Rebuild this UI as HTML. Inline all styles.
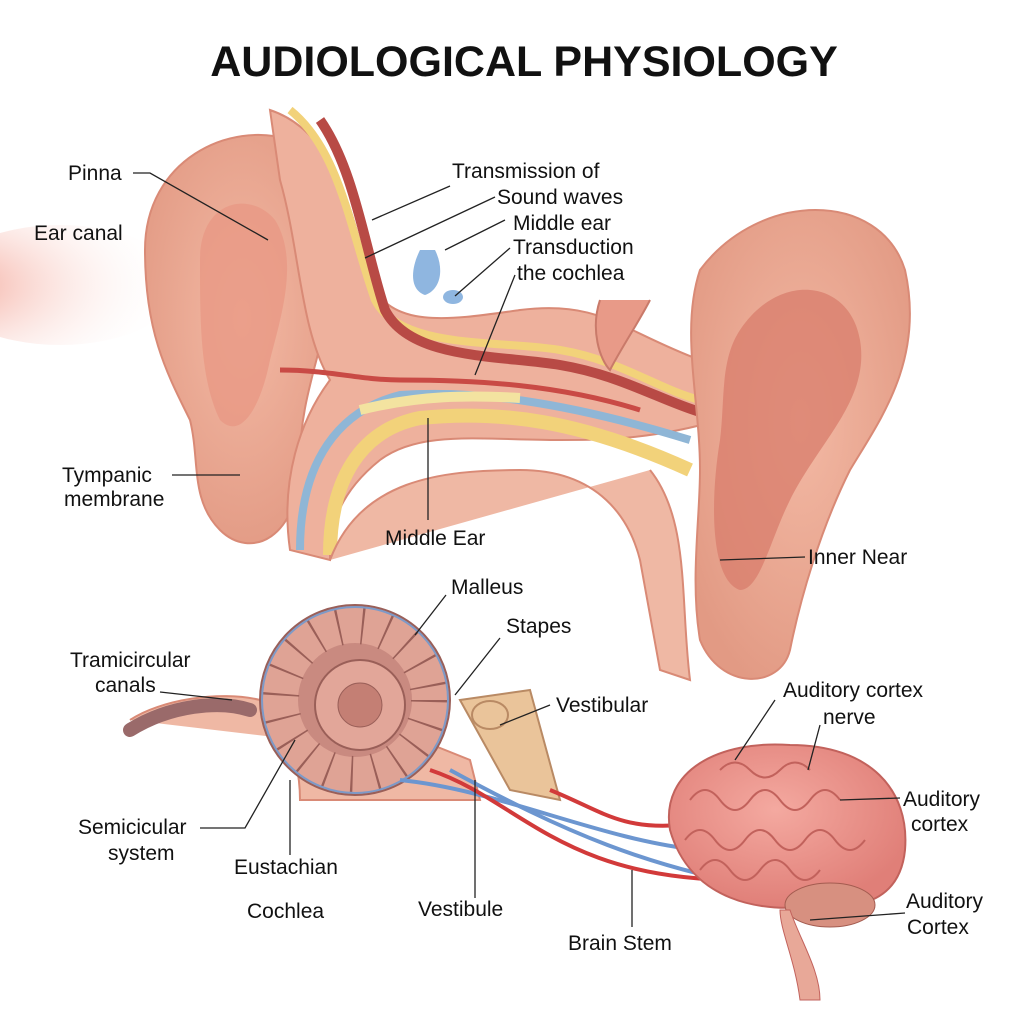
<!DOCTYPE html>
<html><head><meta charset="utf-8"><style>
html,body{margin:0;padding:0;background:#fff}
svg{display:block}
text{font-family:"Liberation Sans",sans-serif;fill:#111}
</style></head><body>
<svg width="1024" height="1024" viewBox="0 0 1024 1024">
<defs>
<radialGradient id="skin" cx="50%" cy="45%" r="60%"><stop offset="0" stop-color="#f3b9a4"/><stop offset="1" stop-color="#e29a84"/></radialGradient>
<radialGradient id="glow" cx="0" cy="0.5" r="1"><stop offset="0" stop-color="#f08a78"/><stop offset="1" stop-color="#fff" stop-opacity="0"/></radialGradient>
<radialGradient id="brain" cx="45%" cy="40%" r="60%"><stop offset="0" stop-color="#f4a9a0"/><stop offset="1" stop-color="#e07f78"/></radialGradient>
</defs>
<rect width="1024" height="1024" fill="#fff"/>
<text x="524" y="76" font-size="43" font-weight="bold" text-anchor="middle" fill="#111">AUDIOLOGICAL PHYSIOLOGY</text>
<ellipse cx="60" cy="285" rx="120" ry="60" fill="url(#glow)" opacity="0.8"/>
<!-- left ear -->
<path d="M145 250 C145 160 230 120 290 140 C340 160 350 230 330 300 C320 360 300 400 300 460 C300 540 250 560 220 530 C190 500 200 460 190 420 C165 370 145 330 145 250Z" fill="url(#skin)" stroke="#d98a76" stroke-width="2"/>
<path d="M200 260 C200 200 250 190 275 220 C300 260 280 320 270 360 C260 410 240 440 220 420 C200 380 200 320 200 260Z" fill="#e89984" opacity="0.8"/>
<!-- central band -->
<path d="M270 110 C330 130 350 200 370 280 C390 330 450 320 520 310 C600 300 620 330 700 360 L720 420 C650 440 600 440 560 440 C480 440 420 430 380 460 C330 500 330 540 330 560 L290 550 C280 480 300 420 330 380 C300 330 300 250 280 180 Z" fill="#eeb19d" stroke="#d98a76" stroke-width="2"/>
<path d="M290 110 C340 150 350 230 375 300 C400 350 500 340 560 350 C620 360 660 390 700 400" fill="none" stroke="#f2d27a" stroke-width="8"/>
<path d="M320 120 C355 170 365 250 385 310 C410 360 500 355 560 365 C620 375 660 400 700 412" fill="none" stroke="#b84a45" stroke-width="10"/>
<path d="M280 370 C330 370 360 380 400 380 C480 380 560 385 640 410" fill="none" stroke="#c94a45" stroke-width="5"/>
<path d="M300 550 C300 460 340 410 400 395 C470 390 560 400 690 440" fill="none" stroke="#8fb6d6" stroke-width="8"/>
<path d="M330 555 C330 480 360 430 420 418 C500 410 580 420 690 470" fill="none" stroke="#f2d27a" stroke-width="14"/>
<path d="M360 410 C420 395 470 395 520 398" fill="none" stroke="#f3e3a0" stroke-width="10"/>
<path d="M330 560 C360 480 440 470 520 470 C600 470 630 520 640 560 L660 670 L690 680 C680 600 690 520 650 470" fill="#efb8a4" stroke="#d98a76" stroke-width="2"/>
<path d="M420 250 C410 270 410 290 425 295 C440 290 445 270 435 250 Z" fill="#8fb6e0"/>
<ellipse cx="453" cy="297" rx="10" ry="7" fill="#8fb6e0"/>
<path d="M600 300 C590 330 600 360 610 370 C620 350 640 320 650 300" fill="#e89a88" stroke="#c97a6a" stroke-width="2"/>
<!-- right ear -->
<path d="M700 270 C760 190 880 190 905 270 C925 360 880 420 850 470 C820 530 800 600 790 650 C780 690 720 690 700 640 C690 580 700 520 700 470 C700 400 680 330 700 270Z" fill="url(#skin)" stroke="#d98a76" stroke-width="2"/>
<path d="M740 330 C780 270 850 280 860 340 C870 400 820 440 790 500 C770 540 760 590 740 590 C710 580 710 500 720 440 C725 400 720 360 740 330Z" fill="#d97f6e" opacity="0.8"/>
<!-- cochlea -->
<path d="M130 720 C160 700 220 690 260 700 C290 720 300 770 300 800 L480 800 L470 760 L420 740 L300 740" fill="#efb8a4" stroke="#d98a76" stroke-width="2"/>
<path d="M130 730 C170 705 220 700 250 710" fill="none" stroke="#9a6a6a" stroke-width="14" stroke-linecap="round"/>
<circle cx="355" cy="700" r="95" fill="#c98a80" stroke="#9a5f58" stroke-width="2"/>
<circle cx="355" cy="700" r="75" fill="none" stroke="#dfa395" stroke-width="36"/>
<circle cx="355" cy="700" r="75" fill="none" stroke="#9a5f58" stroke-width="38" stroke-dasharray="2 22"/>
<circle cx="355" cy="700" r="93" fill="none" stroke="#7d9ac8" stroke-width="2"/>
<circle cx="360" cy="705" r="45" fill="#e2a699" stroke="#9a5f58" stroke-width="2"/>
<circle cx="360" cy="705" r="22" fill="#c47f74" stroke="#9a5f58"/>
<path d="M460 700 L530 690 L560 800 L510 790 Z" fill="#eac49a" stroke="#b98a64" stroke-width="2"/>
<ellipse cx="490" cy="715" rx="18" ry="14" fill="#eac49a" stroke="#b98a64" stroke-width="2"/>
<path d="M400 780 C500 790 600 840 700 850" fill="none" stroke="#6c96d0" stroke-width="4"/>
<path d="M430 770 C520 800 560 880 740 880" fill="none" stroke="#d23a3a" stroke-width="4"/>
<path d="M550 790 C600 810 620 830 680 825" fill="none" stroke="#d23a3a" stroke-width="4"/>
<path d="M450 770 C560 830 650 870 780 890" fill="none" stroke="#6c96d0" stroke-width="4"/>
<!-- brain -->
<path d="M670 830 C660 770 720 740 790 745 C870 745 910 790 905 850 C900 900 860 910 820 905 C760 915 690 900 670 830Z" fill="url(#brain)" stroke="#c2625c" stroke-width="2"/>
<g fill="none" stroke="#c2625c" stroke-width="2">
<path d="M690 800 q15 -20 30 0 t30 0 t30 0 t30 0 t30 0"/>
<path d="M685 840 q15 -20 30 0 t30 0 t30 0 t30 0 t30 0 t30 0"/>
<path d="M700 870 q15 -20 30 0 t30 0 t30 0 t30 0"/>
<path d="M720 770 q15 -15 30 0 t30 0 t30 0"/>
</g>
<ellipse cx="830" cy="905" rx="45" ry="22" fill="#d79080" stroke="#a45c50"/>
<path d="M790 910 C800 940 820 970 820 1000 L800 1000 C795 960 780 930 780 910Z" fill="#e8a898" stroke="#c2625c"/>
<g stroke="#222" stroke-width="1.3" fill="none">
<path d="M133 173 L150 173 L268 240"/>
<path d="M450 186 L372 220"/><path d="M495 197 L365 258"/><path d="M505 220 L445 250"/>
<path d="M510 248 L455 296"/><path d="M515 275 L475 375"/>
<path d="M172 475 L240 475"/><path d="M428 520 L428 418"/>
<path d="M805 557 L720 560"/><path d="M446 595 L415 635"/><path d="M500 638 L455 695"/>
<path d="M550 705 L500 725"/><path d="M160 692 L232 700"/><path d="M200 828 L245 828 L295 740"/>
<path d="M290 855 L290 780"/><path d="M475 898 L475 780"/><path d="M632 927 L632 870"/>
<path d="M775 700 L735 760"/><path d="M820 725 L808 770"/><path d="M900 798 L840 800"/>
<path d="M905 913 L810 920"/>
</g>
<g font-size="21">
<text x="68" y="180">Pinna</text>
<text x="34" y="240">Ear canal</text>
<text x="452" y="178">Transmission of</text>
<text x="497" y="204">Sound waves</text>
<text x="513" y="230">Middle ear</text>
<text x="513" y="254">Transduction</text>
<text x="517" y="280">the cochlea</text>
<text x="62" y="482">Tympanic</text>
<text x="64" y="506">membrane</text>
<text x="385" y="545">Middle Ear</text>
<text x="808" y="564">Inner Near</text>
<text x="451" y="594">Malleus</text>
<text x="506" y="633">Stapes</text>
<text x="70" y="667">Tramicircular</text>
<text x="95" y="692">canals</text>
<text x="556" y="712">Vestibular</text>
<text x="783" y="697">Auditory cortex</text>
<text x="823" y="724">nerve</text>
<text x="78" y="834">Semicicular</text>
<text x="108" y="860">system</text>
<text x="903" y="806">Auditory</text>
<text x="911" y="831">cortex</text>
<text x="234" y="874">Eustachian</text>
<text x="247" y="918">Cochlea</text>
<text x="418" y="916">Vestibule</text>
<text x="568" y="950">Brain Stem</text>
<text x="906" y="908">Auditory</text>
<text x="907" y="934">Cortex</text>
</g>
</svg>
</body></html>
